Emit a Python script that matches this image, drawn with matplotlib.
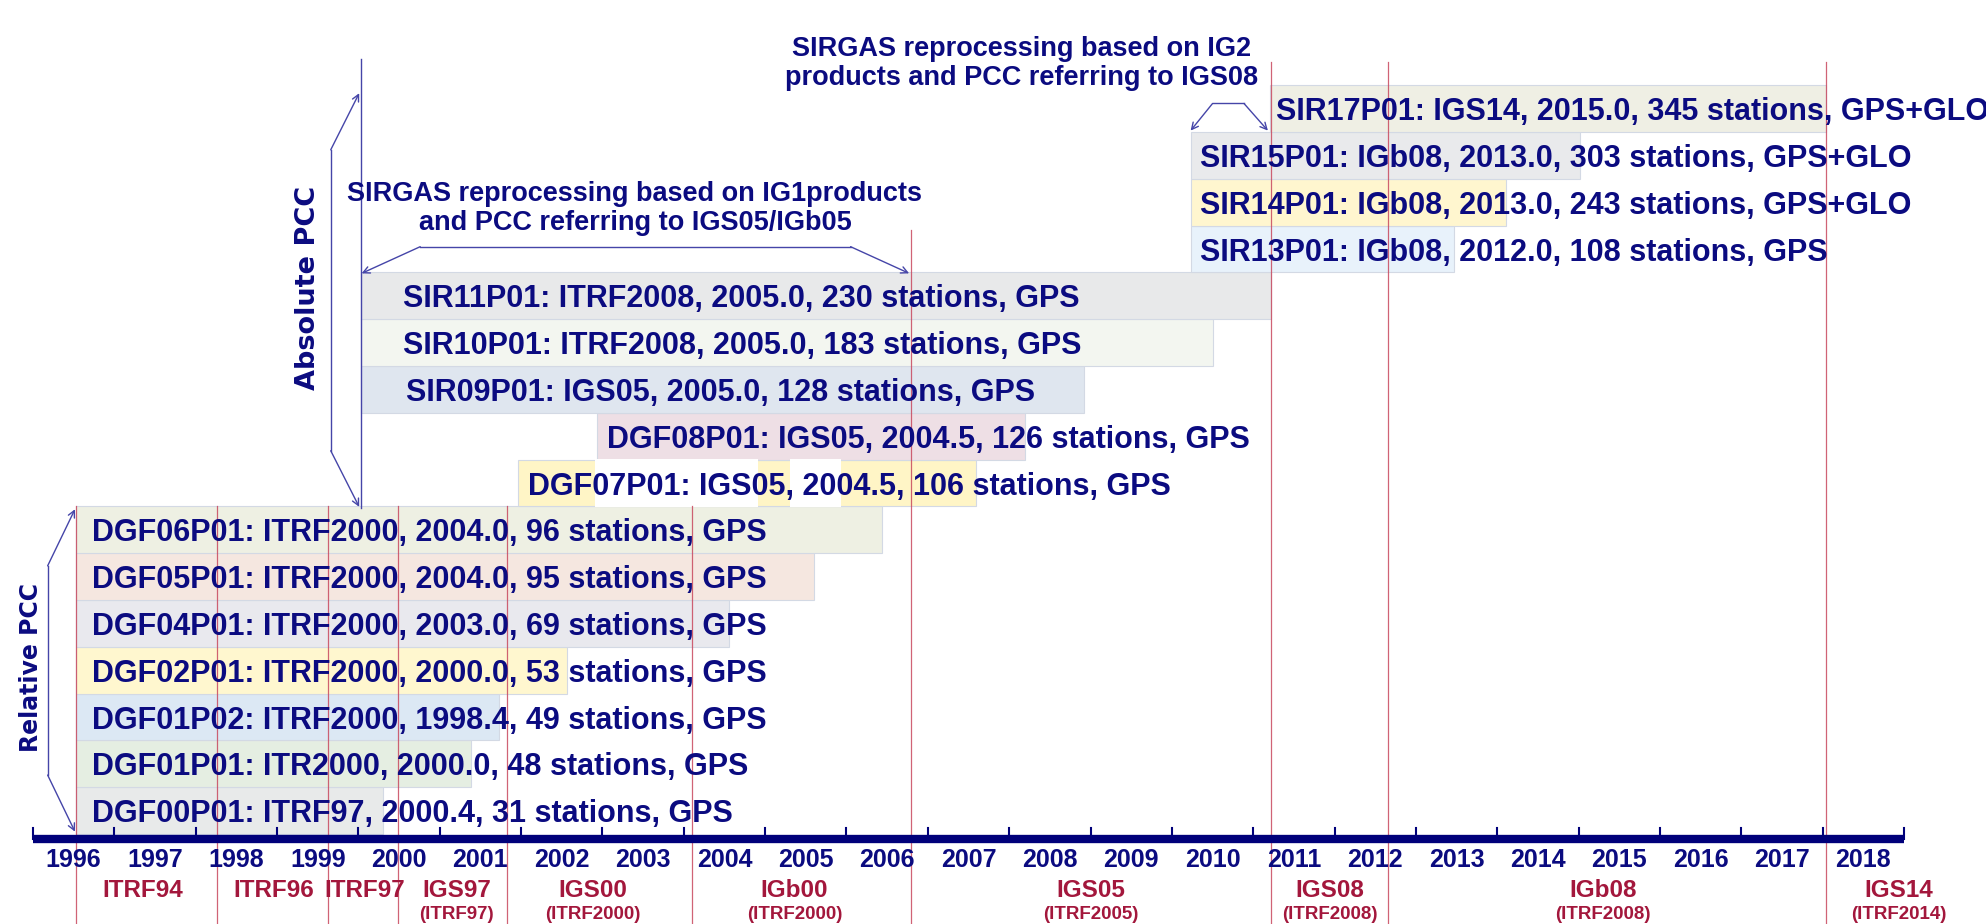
import matplotlib
matplotlib.use("Agg")
import matplotlib.pyplot as plt

# SIRGAS solutions, bottom row first
solutions = ["DGF00P01", "DGF01P01", "DGF01P02", "DGF02P01", "DGF04P01", "DGF05P01",
             "DGF06P01", "DGF07P01", "DGF08P01", "SIR09P01", "SIR10P01", "SIR11P01",
             "SIR13P01", "SIR14P01", "SIR15P01", "SIR17P01"]
ref_frames = ["ITRF97", "ITR2000", "ITRF2000", "ITRF2000", "ITRF2000", "ITRF2000",
              "ITRF2000", "IGS05", "IGS05", "IGS05", "ITRF2008", "ITRF2008",
              "IGb08", "IGb08", "IGb08", "IGS14"]
epochs = ["2000.4", "2000.0", "1998.4", "2000.0", "2003.0", "2004.0", "2004.0", "2004.5",
          "2004.5", "2005.0", "2005.0", "2005.0", "2012.0", "2013.0", "2013.0", "2015.0"]
n_stations = [31, 48, 49, 53, 69, 95, 96, 106, 126, 128, 183, 230, 108, 243, 303, 345]
gnss = ["GPS"] * 13 + ["GPS+GLO", "GPS+GLO", "GPS+GLO"]

bar_start = [1996.53, 1996.53, 1996.53, 1996.53, 1996.53, 1996.53, 1996.53, 2001.96,
             2002.93, 2000.03, 2000.03, 2000.03, 2010.23, 2010.23, 2010.23, 2011.21]
bar_end = [2000.30, 2001.38, 2001.73, 2002.56, 2004.56, 2005.60, 2006.44, 2007.59,
           2008.19, 2008.92, 2010.51, 2011.22, 2013.47, 2014.11, 2015.02, 2018.04]
bar_colors = ["#e8eaea", "#e5eee2", "#dce8f4", "#fff7cf", "#e9e9ee", "#f5e7e0",
              "#eef0e3", "#fff5c6", "#eedfe5", "#dfe6ef", "#f3f6f0", "#e8e9ea",
              "#e8f2fb", "#fff6cf", "#e9eaec", "#efefe4"]
label_x = [1996.73, 1996.73, 1996.73, 1996.73, 1996.73, 1996.73, 1996.73, 2002.08,
           2003.06, 2000.59, 2000.55, 2000.55, 2010.35, 2010.35, 2010.35, 2011.28]
# white gaps behind the DGF07P01 text
dgf07_gaps = [(2002.91, 2004.91), (2005.31, 2005.93)]

# reference frame changes
frame_changes = [1996.53, 1998.26, 1999.63, 2000.49, 2001.83, 2004.10, 2006.79,
                 2011.22, 2012.66, 2018.04]
change_line_top = [7.0, 7.0, 7.0, 7.0, 7.0, 7.0, 12.9, 16.5, 16.5, 16.5]
frame_names = ["ITRF94", "ITRF96", "ITRF97", "IGS97", "IGS00", "IGb00", "IGS05",
               "IGS08", "IGb08", "IGS14"]
frame_sub = ["", "", "", "(ITRF97)", "(ITRF2000)", "(ITRF2000)", "(ITRF2005)",
             "(ITRF2008)", "(ITRF2008)", "(ITRF2014)"]
frame_label_x = [1997.35, 1998.96, 2000.08, 2001.21, 2002.88, 2005.36, 2009.0,
                 2011.94, 2015.30, 2018.93]

years = list(range(1996, 2019))

navy = "#0b0b80"
crimson = "#a3173c"
redline = "#c8485e"
bluel = "#4545a8"

plt.rcParams["font.family"] = ["Liberation Sans", "DejaVu Sans"]
plt.rcParams["font.weight"] = "bold"

fig = plt.figure(figsize=(19.86, 9.24), dpi=100)
ax = fig.add_axes([0, 0, 1, 1])
ax.set_xlim(1995.5944, 2020.0074)
ax.set_ylim(-1.923, 17.821)
ax.axis("off")

# bars
for i in range(len(solutions)):
    ax.barh(i + 0.5, bar_end[i] - bar_start[i], left=bar_start[i], height=1.0,
            color=bar_colors[i], edgecolor="#d3d9e4", linewidth=0.8, zorder=1)
    if solutions[i] == "DGF07P01":
        for g0, g1 in dgf07_gaps:
            ax.barh(i + 0.5, g1 - g0, left=g0, height=1.02, color="white",
                    linewidth=0, zorder=1.1)

# frame change lines
for xc, top in zip(frame_changes, change_line_top):
    ax.plot([xc, xc], [-1.923, top], color=redline, lw=0.9, alpha=0.85, zorder=2)

# absolute PCC start line
ax.plot([2000.03, 2000.03], [6.97, 16.56], color=bluel, lw=1.0, zorder=2)

# row texts
for i in range(len(solutions)):
    txt = f"{solutions[i]}: {ref_frames[i]}, {epochs[i]}, {n_stations[i]} stations, {gnss[i]}"
    ax.text(label_x[i], i + 0.5, txt, ha="left", va="center_baseline", fontsize=22,
            color=navy, zorder=4)

# time axis
ax.plot([1996, 2019], [-0.107, -0.107], color="#00007a", lw=6, solid_capstyle="butt", zorder=3)
for k in range(len(years) + 1):
    ax.plot([1996 + k, 1996 + k], [-0.107, 0.135], color="#00007a", lw=1.5, zorder=3)
for y in years:
    ax.text(y + 0.5, -0.56, str(y), ha="center", va="center", fontsize=18, color=navy)

for name, sub, xc in zip(frame_names, frame_sub, frame_label_x):
    ax.text(xc, -1.2, name, ha="center", va="center", fontsize=17.5, color=crimson)
    if sub:
        ax.text(xc, -1.73, sub, ha="center", va="center", fontsize=13.5, color=crimson)


def bracket(pts):
    xs = [p[0] for p in pts[1:-1]]
    ys = [p[1] for p in pts[1:-1]]
    ax.plot(xs, ys, color=bluel, lw=1.0, zorder=3)
    for a, b in ((pts[1], pts[0]), (pts[-2], pts[-1])):
        ax.annotate("", xy=b, xytext=a,
                    arrowprops=dict(arrowstyle="->", color=bluel, lw=1.0,
                                    mutation_scale=12, shrinkA=0, shrinkB=0),
                    zorder=3)


bracket([(2000.01, 15.83), (1999.66, 14.62), (1999.66, 8.19), (2000.01, 6.99)])
bracket([(1996.516, 6.94), (1996.18, 5.73), (1996.18, 1.26), (1996.516, 0.05)])
bracket([(2000.04, 11.98), (2000.76, 12.55), (2006.05, 12.55), (2006.77, 11.98)])
bracket([(2010.23, 15.03), (2010.50, 15.61), (2010.886, 15.61), (2011.18, 15.03)])

ax.text(1999.38, 11.67, "Absolute PCC", rotation=90, ha="center", va="center",
        fontsize=19.5, color=navy, family="DejaVu Sans")
ax.text(1995.98, 3.56, "Relative PCC", rotation=90, ha="center", va="center",
        fontsize=17, color=navy, family="DejaVu Sans")

ax.text(2003.40, 13.37, "SIRGAS reprocessing based on IG1products\nand PCC referring to IGS05/IGb05",
        ha="center", va="center", fontsize=19.5, color=navy, linespacing=1.15)
ax.text(2008.15, 16.46, "SIRGAS reprocessing based on IG2\nproducts and PCC referring to IGS08",
        ha="center", va="center", fontsize=19.5, color=navy, linespacing=1.15)

fig.savefig("out.png", dpi=100)
